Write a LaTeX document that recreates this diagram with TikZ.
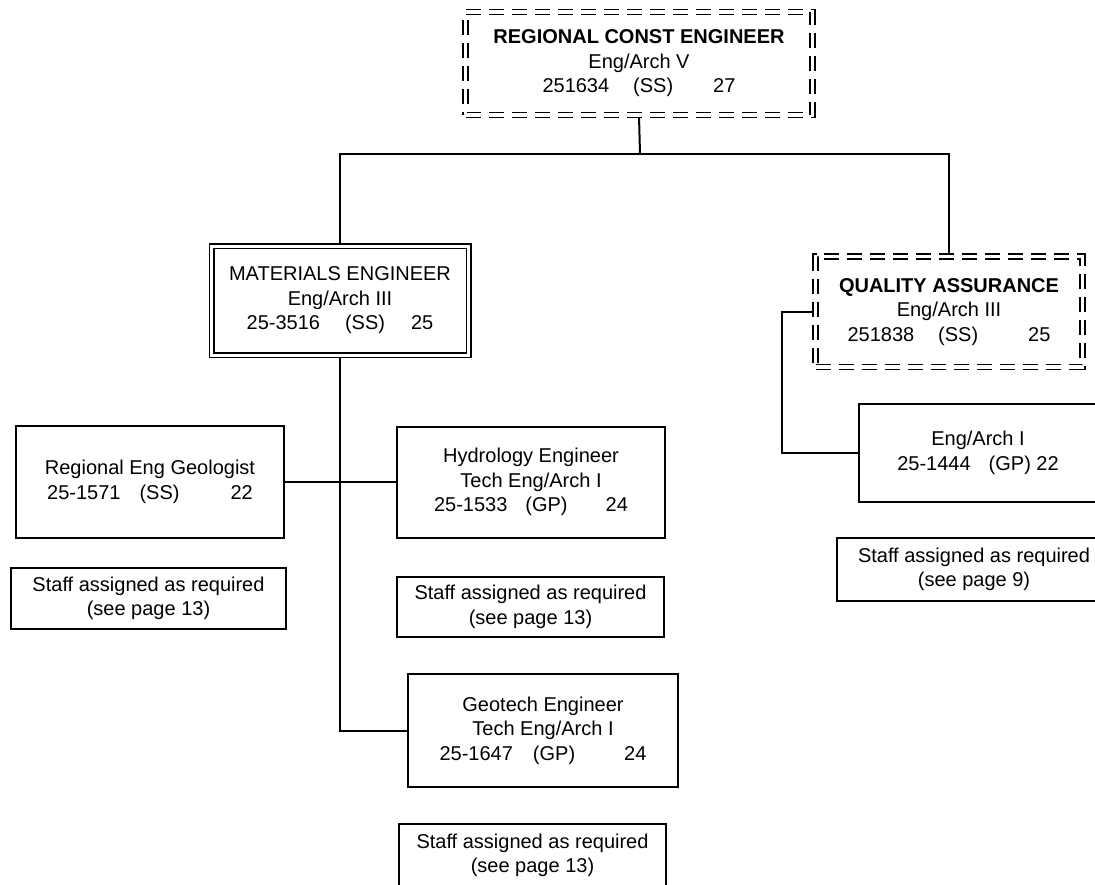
\documentclass[tikz,border=0pt]{standalone}
\usepackage{fontspec}
\setmainfont{Liberation Sans}
\usetikzlibrary{backgrounds}
\begin{document}
\begin{tikzpicture}[x=0.5pt,y=-0.5pt,
  every node/.style={font=\fontsize{10}{12.25}\selectfont, align=center, inner sep=0pt},
  box/.style={draw, line width=1pt, rectangle},
  dbox/.style={draw, rectangle, line width=0.75pt, double, double distance=1.5pt},
  ddbox/.style={draw, rectangle, line width=0.9pt, double, double distance=1.6pt, dash pattern=on 7.5pt off 4pt},
  conn/.style={line width=1pt}]
\path[use as bounding box, clip] (0,0) rectangle (1095,884);

\node[ddbox, minimum width=173.5pt, minimum height=51.5pt] (top) at (639,63.5)
  {{\bfseries REGIONAL CONST ENGINEER}\\Eng/Arch V\\251634\hspace{12pt}(SS)\hspace{20pt}27};
\node[dbox, minimum width=128.5pt, minimum height=54.5pt] (mat) at (340,300.5)
  {MATERIALS ENGINEER\\Eng/Arch III\\25-3516\hspace{12.5pt}(SS)\hspace{13pt}25};
\node[ddbox, minimum width=133.5pt, minimum height=55.25pt] (qa) at (949,311.75)
  {{\bfseries QUALITY ASSURANCE}\\Eng/Arch III\\251838\hspace{12pt}(SS)\hspace{25pt}25};
\node[box, minimum width=134pt, minimum height=56pt] (geo) at (150,482)
  {Regional Eng Geologist\\25-1571\hspace{9.5pt}(SS)\hspace{25.5pt}22};
\node[box, minimum width=134pt, minimum height=55.5pt] (hyd) at (531,482)
  {Hydrology Engineer\\Tech Eng/Arch I\\25-1533\hspace{9pt}(GP)\hspace{19pt}24};
\node[box, minimum width=135pt, minimum height=56.5pt] (geot) at (543,730.5)
  {Geotech Engineer\\Tech Eng/Arch I\\25-1647\hspace{10pt}(GP)\hspace{24.5pt}24};
\node[box, minimum width=119pt, minimum height=49pt] (ea1) at (978,453)
  {Eng/Arch I\\25-1444\hspace{9pt}(GP) 22};
\node[box, minimum width=137.5pt, minimum height=30.5pt] (s1) at (148.5,598.5)
  {Staff assigned as required\\(see page 13)};
\node[box, minimum width=133.5pt, minimum height=30pt] (s2) at (530.5,607)
  {Staff assigned as required\\(see page 13)};
\node[box, minimum width=137pt, minimum height=31.5pt] (s3) at (974,569.5)
  {Staff assigned as required\\(see page 9)};
\node[box, minimum width=133.5pt, minimum height=32pt] (s4) at (532.5,855.5)
  {Staff assigned as required\\(see page 13)};

\coordinate (bus) at (640,154);
\coordinate (qabend) at (782,311.75);
\begin{scope}[on background layer]
\draw[conn] (top.south) -- (bus);
\draw[conn] (mat.north) |- (bus) -| (qa.north);
\draw[conn] (qa.west) -- (qabend) |- (ea1.west);
\draw[conn] (mat.south) |- (geot.west);
\draw[conn] (geo.east) -- (hyd.west);
\end{scope}
\end{tikzpicture}
\end{document}
